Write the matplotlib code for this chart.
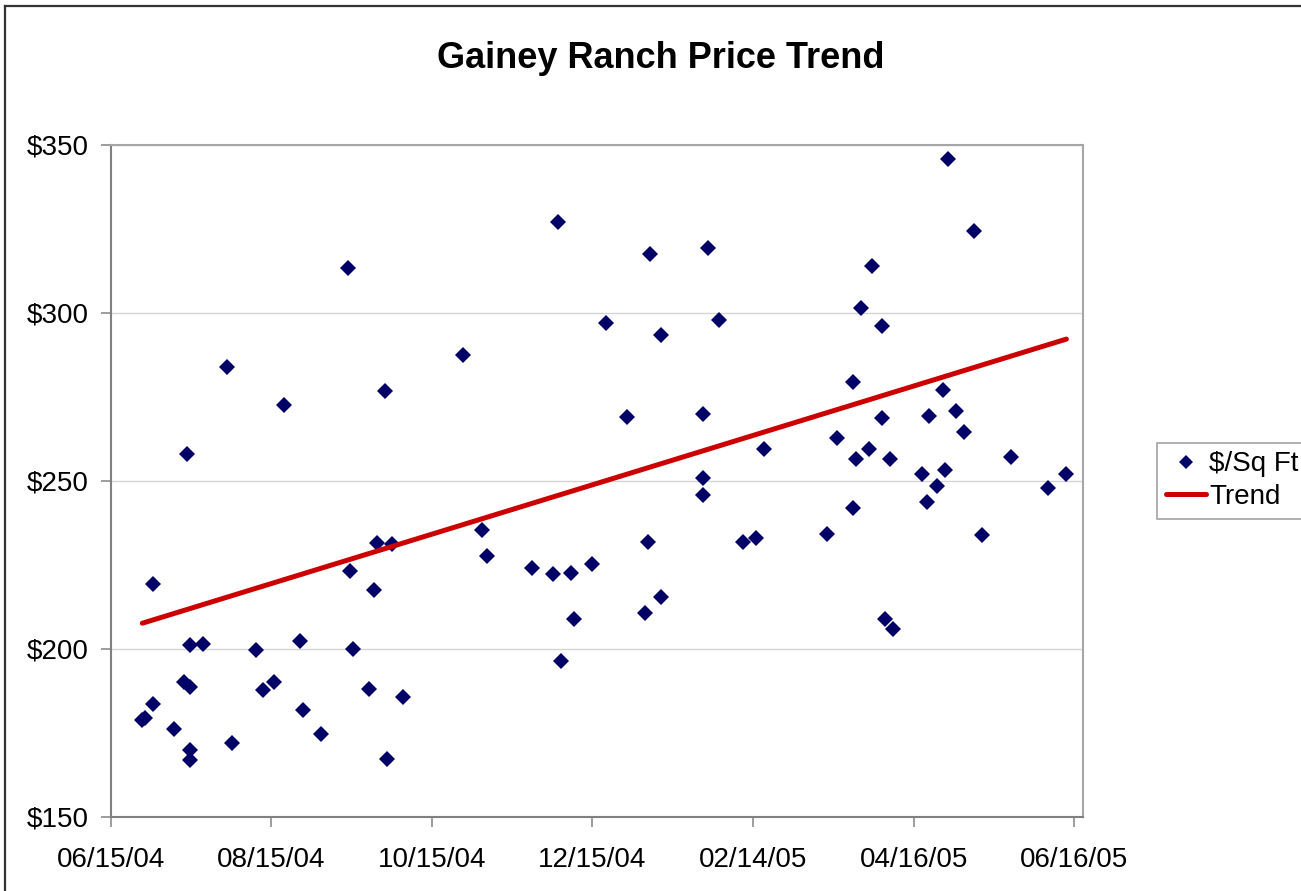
import datetime as dt
import numpy as np
import matplotlib
matplotlib.use("Agg")
import matplotlib.pyplot as plt
import matplotlib.dates as mdates
from matplotlib.lines import Line2D

# --- DATA ---
sale_dates = [
    "2004-06-27", "2004-06-28", "2004-07-01", "2004-07-01", "2004-07-09",
    "2004-07-14", "2004-07-13", "2004-07-15", "2004-07-15", "2004-07-15",
    "2004-07-15", "2004-07-20", "2004-07-29", "2004-07-31", "2004-08-09",
    "2004-08-12", "2004-08-16", "2004-08-20", "2004-08-26", "2004-08-27",
    "2004-09-03", "2004-09-13", "2004-09-14", "2004-09-15", "2004-09-21",
    "2004-09-23", "2004-09-24", "2004-09-27", "2004-09-28", "2004-09-30",
    "2004-10-04", "2004-10-27", "2004-11-03", "2004-11-05", "2004-11-22",
    "2004-11-30", "2004-12-02", "2004-12-03", "2004-12-07", "2004-12-08",
    "2004-12-15", "2004-12-20", "2004-12-28", "2005-01-04", "2005-01-05",
    "2005-01-06", "2005-01-10", "2005-01-10", "2005-01-26", "2005-01-26",
    "2005-01-26", "2005-01-28", "2005-02-01", "2005-02-10", "2005-02-15",
    "2005-02-18", "2005-03-14", "2005-03-18", "2005-03-24", "2005-03-25",
    "2005-03-24", "2005-03-27", "2005-03-30", "2005-03-31", "2005-04-04",
    "2005-04-04", "2005-04-05", "2005-04-07", "2005-04-08", "2005-04-19",
    "2005-04-21", "2005-04-22", "2005-04-25", "2005-04-27", "2005-04-28",
    "2005-04-29", "2005-05-02", "2005-05-05", "2005-05-09", "2005-05-12",
    "2005-05-23", "2005-06-06", "2005-06-13",
]
price_sqft = [
    178.9, 179.5, 183.7, 219.2, 176.1,
    258.0, 190.2, 188.7, 201.0, 170.0,
    166.8, 201.4, 284.0, 172.0, 199.6,
    187.6, 190.0, 272.6, 202.3, 181.7,
    174.7, 313.5, 223.2, 199.9, 188.0,
    217.5, 231.6, 276.7, 167.2, 231.2,
    185.7, 287.5, 235.3, 227.6, 224.0,
    222.2, 327.0, 196.3, 222.7, 208.8,
    225.1, 297.1, 269.0, 210.7, 231.8,
    317.5, 215.5, 293.4, 269.9, 250.9,
    245.9, 319.3, 298.0, 231.9, 233.1,
    259.4, 234.1, 262.7, 279.4, 256.4,
    242.0, 301.5, 259.6, 314.1, 296.2,
    268.8, 208.8, 256.6, 205.8, 252.1,
    243.6, 269.4, 248.5, 277.1, 253.1,
    345.8, 270.9, 264.5, 324.3, 233.9,
    257.0, 247.8, 252.0,
]
# trend series as drawn on the chart (end points)
trend_dates = ["2004-06-27", "2005-06-13"]
trend_values = [207.6, 292.2]

tick_dates = ["2004-06-15", "2004-08-15", "2004-10-15", "2004-12-15",
              "2005-02-14", "2005-04-16", "2005-06-16"]
y_ticks = [150, 200, 250, 300, 350]


def to_num(dates):
    return mdates.date2num([dt.datetime.strptime(d, "%Y-%m-%d") for d in dates])


x = to_num(sale_dates)
y = np.array(price_sqft)
tx = to_num(trend_dates)
xt = to_num(tick_dates)

plt.rcParams['font.family'] = ['Liberation Sans', 'DejaVu Sans']

fig = plt.figure(figsize=(13.01, 8.91), dpi=100)
ax = fig.add_axes([0.0851, 0.0834, 0.7473, 0.7539])

ax.plot(x, y, linestyle='none', marker='D', markersize=8.5,
        color='#000066', markeredgewidth=0, label='$/Sq Ft')
ax.plot(tx, trend_values, color='#cc0000', linewidth=3.6,
        solid_capstyle='round', label='Trend')

ax.set_xlim(xt[0], xt[0] + 369.3)
ax.set_ylim(150, 350)
ax.set_xticks(xt)
ax.xaxis.set_major_formatter(mdates.DateFormatter('%m/%d/%y'))
ax.set_yticks(y_ticks)
ax.set_yticklabels([f"${v}" for v in y_ticks])

ax.grid(axis='y', color='#d4d4d4', linewidth=1)
ax.set_axisbelow(True)
ax.tick_params(axis='both', labelsize=20, length=7, width=1.2,
               color='#8c8c8c', direction='out')
ax.tick_params(axis='x', pad=15)
ax.tick_params(axis='y', pad=9)
for side in ['top', 'right']:
    ax.spines[side].set_color('#a6a6a6')
    ax.spines[side].set_linewidth(1.5)
for side in ['left', 'bottom']:
    ax.spines[side].set_color('#808080')
    ax.spines[side].set_linewidth(1.5)

fig.text(0.5077, 0.934, "Gainey Ranch Price Trend", ha='center', va='center',
         fontsize=26, fontweight='bold')

leg = ax.legend(loc='center left', bbox_to_anchor=(0.8897, 0.4605),
                bbox_transform=fig.transFigure, fontsize=20, frameon=True,
                fancybox=False, edgecolor='#8c8c8c', borderpad=0.3,
                handlelength=1.45, handletextpad=0.1, labelspacing=0.25,
                borderaxespad=0, markerscale=0.8)
leg.get_frame().set_linewidth(1.2)

# outer chart border (top and left edges visible)
fig.add_artist(Line2D([0.0038, 1.0], [0.9933, 0.9933], color='#333333',
                      linewidth=1.6, transform=fig.transFigure))
fig.add_artist(Line2D([0.0038, 0.0038], [0.0, 0.9933], color='#333333',
                      linewidth=1.6, transform=fig.transFigure))

fig.savefig("out.png", dpi=100)
